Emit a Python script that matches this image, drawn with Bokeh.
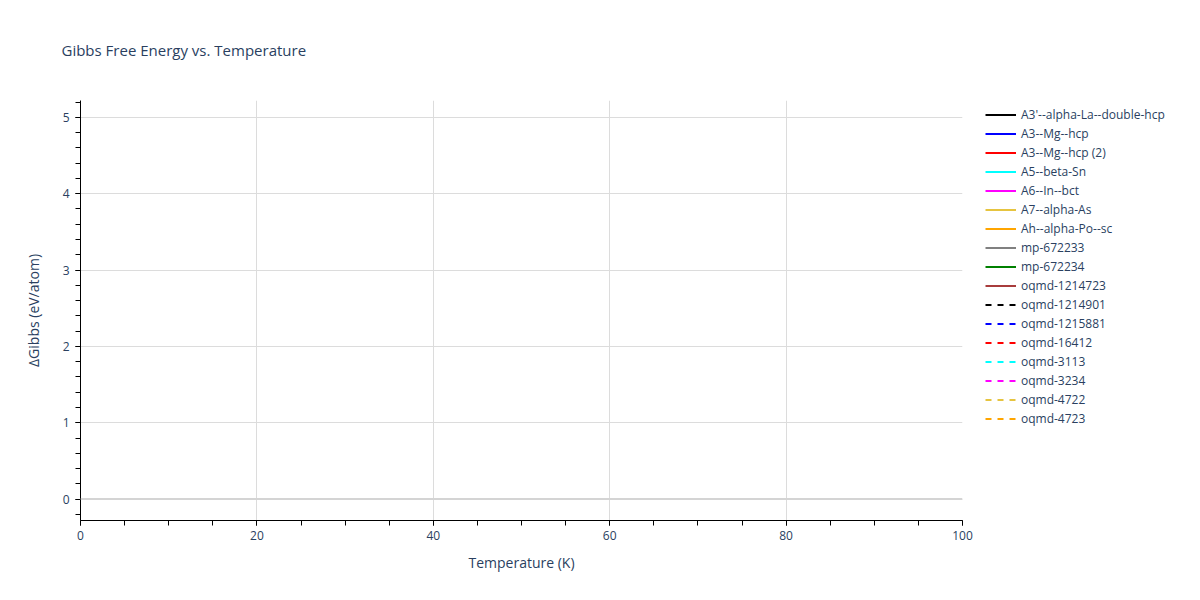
from bokeh.plotting import figure
from bokeh.models import Legend, LegendItem, SingleIntervalTicker, Span, Range1d
from bokeh.embed import file_html
from bokeh.resources import INLINE

nan = float("nan")

# ---- data (the reference shows legend entries only; no visible curves) ----
series_names = [
    "A3'--alpha-La--double-hcp", "A3--Mg--hcp", "A3--Mg--hcp (2)", "A5--beta-Sn",
    "A6--In--bct", "A7--alpha-As", "Ah--alpha-Po--sc", "mp-672233", "mp-672234",
    "oqmd-1214723", "oqmd-1214901", "oqmd-1215881", "oqmd-16412", "oqmd-3113",
    "oqmd-3234", "oqmd-4722", "oqmd-4723",
]
series_colors = [
    "black", "blue", "red", "cyan", "magenta", "#e6c440", "orange", "gray", "green",
    "#a83c3c", "black", "blue", "red", "cyan", "magenta", "#e6c440", "orange",
]
series_dashes = ["solid"] * 10 + ["dashed"] * 7
temperature_k = [nan]
delta_gibbs = [[nan] for _ in series_names]

x_range = (0, 100)
y_range = (-0.28, 5.22)

FONT = "Open Sans"
TXT = "#2a3f5f"

p = figure(frame_width=882, frame_height=420, output_backend="svg", toolbar_location=None,
           x_range=Range1d(*x_range), y_range=Range1d(*y_range),
           min_border_left=80, min_border_right=238, min_border_top=100, min_border_bottom=80,
           title="Gibbs Free Energy vs. Temperature")
p.outline_line_color = None
p.background_fill_color = "white"
p.border_fill_color = "white"

p.title.text_font = FONT
p.title.text_font_size = "15px"
p.title.text_color = TXT
p.title.text_font_style = "normal"
p.title.align = "left"
p.title.vertical_align = "top"
p.title.offset = -19
p.title.standoff = 78

items = []
for name, col, dash, ys in zip(series_names, series_colors, series_dashes, delta_gibbs):
    r = p.line(temperature_k, ys, line_color=col, line_width=2, line_dash=dash)
    items.append(LegendItem(label=name, renderers=[r]))

# grids
p.xgrid.ticker = SingleIntervalTicker(interval=20)
p.ygrid.ticker = SingleIntervalTicker(interval=1)
p.grid.grid_line_color = "#dcdcdc"
p.grid.grid_line_width = 1
p.add_layout(Span(location=0, dimension="width", line_color="#d4d4d4", line_width=2))

# axes
p.xaxis.ticker = SingleIntervalTicker(interval=20, num_minor_ticks=4)
p.yaxis.ticker = SingleIntervalTicker(interval=1, num_minor_ticks=5)
for ax in (p.xaxis[0], p.yaxis[0]):
    ax.axis_line_color = "black"
    ax.major_tick_line_color = "black"
    ax.minor_tick_line_color = "black"
    ax.major_tick_out = 5
    ax.major_tick_in = 0
    ax.minor_tick_out = 5
    ax.minor_tick_in = 0
    ax.major_label_text_font = FONT
    ax.major_label_text_font_size = "12px"
    ax.major_label_text_color = TXT
    ax.axis_label_text_font = FONT
    ax.axis_label_text_font_size = "14px"
    ax.axis_label_text_color = TXT
    ax.axis_label_text_font_style = "normal"
p.xaxis.axis_label = "Temperature (K)"
p.yaxis.axis_label = "ΔGibbs (eV/atom)"
p.xaxis.major_label_standoff = 5
p.yaxis.major_label_standoff = 6
p.xaxis.axis_label_standoff = 10
p.yaxis.axis_label_standoff = 17

legend = Legend(items=items, location=(23, 92), orientation="vertical",
                label_text_font=FONT, label_text_font_size="12px", label_text_color=TXT,
                glyph_width=31, glyph_height=19, label_height=19, label_standoff=5,
                spacing=0, padding=0, margin=0, border_line_color=None,
                background_fill_alpha=0)
p.add_layout(legend, "right")

open("out.html", "w").write(file_html(p, INLINE))
